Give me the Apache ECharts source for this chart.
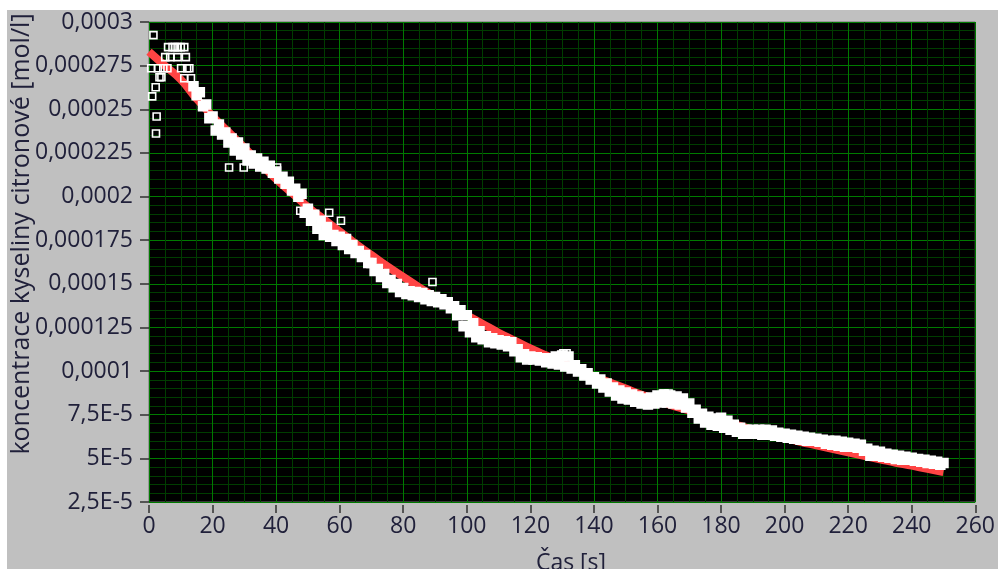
<!DOCTYPE html>
<html>
<head>
<meta charset="utf-8">
<title>koncentrace kyseliny citronové</title>
<script src="https://cdn.jsdelivr.net/npm/echarts@6/dist/echarts.min.js"></script>
<style>
  html, body { margin: 0; background: #fff; }
  #chart {
    position: absolute;
    left: 7px;
    top: 10px;
    width: 991px;
    height: 559px;
    background: #c0c0c0;
  }
</style>
</head>
<body>
<div id="chart"></div>
<script>
// concentrations are kept in µmol/l, the tick labels show mol/l like the original
const yTickLabels = ['2,5E-5', '5E-5', '7,5E-5', '0,0001', '0,000125', '0,00015',
  '0,000175', '0,0002', '0,000225', '0,00025', '0,000275', '0,0003'];

// fitted curve, read every 5 s
const fitStep = 5;
const fitConc = [283, 275, 267, 256, 246, 237, 228, 219, 210, 202, 194, 187, 180, 173,
  166.5, 160, 154, 148, 142.5, 137, 132, 127, 122, 117.5, 113, 109, 105, 101, 97, 93.5,
  90, 86.5, 83.5, 80, 77.5, 74.5, 72, 69, 66.5, 64, 62, 59.5, 57.5, 55.5, 53.5, 51.5,
  49.5, 47.5, 45.8, 44, 42.2];

// scattered measurements at the start and a few outliers
const looseTime = [0.7, 1.0, 1.4, 2.1, 2.2, 2.4, 2.8, 3.3, 3.9, 4.5, 5.1, 5.8, 6.0, 6.7,
  7.4, 8.2, 9.0, 9.0, 10.0, 10.1, 11.1, 11.6, 11.1, 12.0, 12.7, 13.2,
  25.2, 29.8, 40.3, 47.6, 56.7, 60.4, 89.2, 130.4, 131.4, 162, 163.5];
const looseConc = [273.5, 257.4, 292.5, 262.6, 236.1, 245.9, 273.5, 268.4, 268.4, 273.5,
  279.9, 273.5, 285.6, 279.9, 285.6, 285.6, 285.6, 279.9, 285.6, 273.5, 285.6, 279.9,
  267.8, 273.5, 273.5, 267.8,
  216.6, 216.6, 216.6, 191.9, 190.7, 186.1, 151.0, 110.2, 110.2, 87.2, 87.2];

// measurements one per second from 14 s on
const sampledFrom = 14;
const sampledConc = [
  263.2, 258.0, 259.7, 251.7, 252.8, 244.8, 245.9, 237.9, 241.3, 235.6,
  236.7, 231.0, 233.3, 226.4, 231.0, 224.1, 227.5, 220.6, 223.5, 218.9,
  221.8, 217.2, 220.0, 216.0, 217.7, 213.7, 214.3, 210.3, 211.4, 207.4,
  208.5, 203.4, 204.5, 199.9, 201.6, 190.7, 193.0, 186.1, 189.5, 181.5,
  186.1, 178.0, 182.6, 176.9, 178.0, 174.6, 176.9, 172.3, 175.7, 170.0,
  172.3, 167.7, 168.8, 165.4, 166.5, 161.9, 161.9, 157.3, 158.5, 153.9,
  155.6, 150.4, 152.2, 148.1, 149.9, 145.3, 147.6, 144.1, 145.8, 143.5,
  145.3, 142.4, 144.7, 141.2, 143.5, 140.1, 142.4, 139.5, 141.2, 138.3,
  139.5, 136.0, 137.2, 132.0, 134.9, 125.7, 132.0, 122.2, 127.4, 119.4,
  122.8, 118.2, 119.9, 116.5, 118.8, 115.9, 117.6, 115.3, 117.1, 114.2,
  116.5, 111.3, 112.5, 107.9, 109.6, 106.7, 108.4, 106.7, 107.9, 106.1,
  107.3, 105.0, 107.3, 104.4, 108.4, 103.8, 109.0, 102.7, 108.4, 101.5,
  103.3, 99.8, 101.0, 97.5, 98.7, 95.2, 96.4, 92.9, 95.2, 90.6,
  92.9, 88.3, 90.6, 86.0, 88.9, 84.3, 87.7, 83.7, 86.6, 82.5,
  85.4, 81.4, 84.3, 80.8, 84.8, 81.4, 86.0, 82.0, 86.6, 82.0,
  86.0, 81.4, 85.4, 80.8, 84.3, 79.1, 81.4, 76.2, 77.9, 72.8,
  75.6, 70.5, 73.9, 69.3, 72.8, 68.7, 73.3, 67.6, 71.6, 66.4,
  69.3, 65.3, 67.6, 64.1, 66.4, 64.1, 66.4, 64.1, 66.4, 63.5,
  66.4, 63.5, 65.9, 63.0, 64.7, 62.4, 64.1, 61.8, 63.5, 61.3,
  63.0, 60.7, 62.4, 60.1, 61.8, 60.1, 61.3, 59.5, 60.7, 58.4,
  60.1, 57.8, 60.1, 57.2, 59.5, 56.7, 59.0, 56.7, 58.4, 56.1,
  57.8, 54.3, 55.5, 51.5, 54.3, 51.5, 53.8, 50.9, 52.6, 50.3,
  52.0, 49.7, 51.5, 49.2, 50.9, 49.2, 50.3, 48.6, 49.7, 48.0,
  49.2, 47.4, 48.6, 46.9, 48.0, 46.3, 47.4];

const yMin = 25, yMax = 300, yStep = 25;
const textColor = '#20203a';
const font = '"Open Sans", "Noto Sans", sans-serif';

const fitData = fitConc.map((c, i) => [i * fitStep, c]);
const looseData = looseTime.map((t, i) => [t, looseConc[i]]);
const sampledData = sampledConc.map((c, i) => [sampledFrom + i, c]);

const chart = echarts.init(document.getElementById('chart'));
chart.setOption({
  animation: false,
  textStyle: { fontFamily: font },
  grid: {
    left: 142, top: 12, right: 15, bottom: 67,
    show: true,
    backgroundColor: '#000',
    borderColor: '#6e6e6e',
    borderWidth: 1
  },
  xAxis: {
    type: 'value',
    min: 0, max: 260, interval: 20,
    offset: 3,
    axisLine: { show: false },
    axisTick: { length: 8, lineStyle: { color: '#303030', width: 1.5 } },
    axisLabel: { fontSize: 23, color: textColor, margin: 10, fontFamily: font },
    splitLine: { lineStyle: { color: '#007a00', width: 1 } },
    minorTick: { show: true, splitNumber: 4, length: 0 },
    minorSplitLine: { show: true, lineStyle: { color: '#003d00', width: 1 } }
  },
  yAxis: {
    type: 'value',
    min: yMin, max: yMax, interval: yStep,
    offset: 2,
    axisLine: { show: false },
    axisTick: { length: 9, lineStyle: { color: '#303030', width: 1.5 } },
    axisLabel: {
      fontSize: 23, color: textColor, margin: 14, fontFamily: font,
      formatter: v => yTickLabels[Math.round((v - yMin) / yStep)]
    },
    splitLine: { lineStyle: { color: '#007a00', width: 1 } },
    minorTick: { show: true, splitNumber: 5, length: 0 },
    minorSplitLine: { show: true, lineStyle: { color: '#003d00', width: 1 } }
  },
  graphic: [
    {
      type: 'text',
      x: 15, y: 224,
      rotation: Math.PI / 2,
      style: {
        text: 'koncentrace kyseliny citronové [mol/l]',
        fontSize: 25, fontFamily: font, fill: textColor,
        align: 'center', verticalAlign: 'middle'
      }
    },
    {
      type: 'text',
      x: 564, y: 542,
      style: {
        text: 'Čas [s]',
        fontSize: 23, fontFamily: font, fill: textColor,
        align: 'center', verticalAlign: 'top'
      }
    }
  ],
  series: [
    {
      name: 'fit',
      type: 'line',
      data: fitData,
      smooth: true,
      showSymbol: false,
      silent: true,
      lineStyle: { color: '#ff4444', width: 8 },
      z: 2
    },
    {
      name: 'měření',
      type: 'scatter',
      data: sampledData,
      symbol: 'rect',
      symbolSize: 9,
      silent: true,
      itemStyle: { color: '#ffffff', borderColor: '#ffffff', borderWidth: 1.5, opacity: 1 },
      z: 3
    },
    {
      name: 'měření – rozptyl',
      type: 'scatter',
      data: looseData,
      symbol: 'rect',
      symbolSize: 7,
      silent: true,
      itemStyle: { color: 'rgba(0,0,0,0)', borderColor: '#ffffff', borderWidth: 1.6, opacity: 1 },
      z: 4
    }
  ]
});
</script>
</body>
</html>
